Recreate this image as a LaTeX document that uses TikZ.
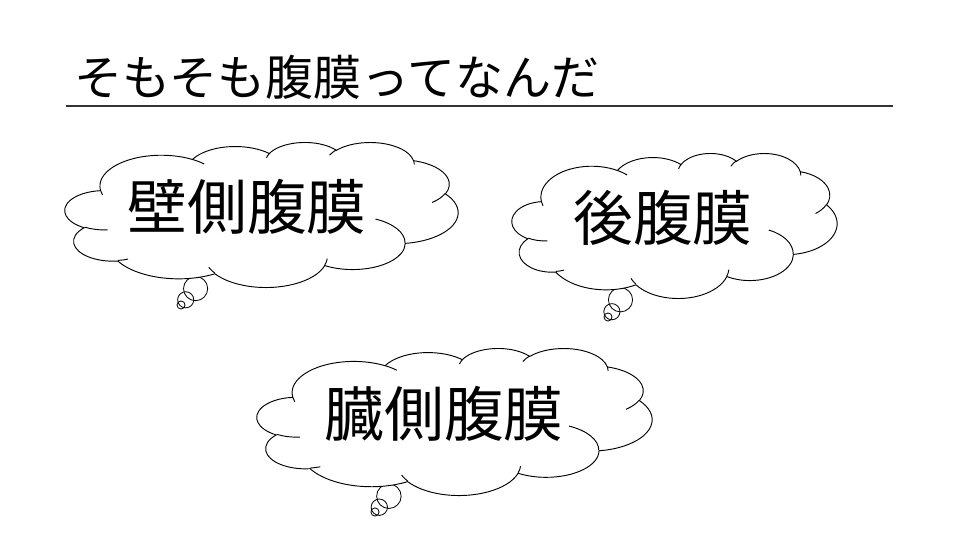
\documentclass[tikz,border=0pt]{standalone}
\usepackage{fontspec}
\setmainfont{Noto Sans CJK JP}
\usepackage{tikz}
\tikzstyle{cloudline} = [draw, black, line width=0.8pt]
\tikzstyle{puff} = [draw, black, line width=0.7pt]
\tikzstyle{rule} = [draw, black!80, line width=2.2pt]
\tikzstyle{headline} = [inner sep=0pt, font=\fontsize{41}{49}\selectfont]
\tikzstyle{cloudtext} = [inner sep=0pt, font=\fontsize{51}{60}\selectfont]

% turn a visual angle pair into start/end parameters of the ellipse
\newcommand\cloudang[4]{%
  \pgfmathsetmacro\cta{atan2(#1*sin(#3),#2*cos(#3))}%
  \pgfmathsetmacro\ctb{atan2(#1*sin(#3+#4),#2*cos(#3+#4))}%
  \pgfmathsetmacro\ctd{\ctb-\cta}%
  \pgfmathsetmacro\ctd{\ctd-360*round((\ctd-(#4))/360)}%
  \pgfmathsetmacro\ctb{\cta+\ctd}%
  \global\let\cta\cta \global\let\ctb\ctb}
\newcommand\carc[4]{\pgfextra{\cloudang{#1}{#2}{#3}{#4}} arc[x radius=#1, y radius=#2, start angle=\cta, end angle=\ctb]}

% cloud in a box: left, top, width, height
\newcommand\drawcloud[4]{%
  \begin{scope}[shift={(#1,#2)}, xscale=#3/43.2, yscale=#4/43.2]
    \draw [cloudline, fill=white] (3.9,14.37)
      \carc{6.753}{9.19}{-190.48748}{123.78053}
      \carc{5.333}{7.267}{-144.10238}{89.94523}
      \carc{4.365}{5.945}{-145.80792}{99.72302}
      \carc{4.857}{6.595}{-130.98607}{117.24173}
      \carc{5.333}{7.273}{-78.70888}{109.02692}
      \carc{6.775}{9.22}{-46.26725}{130.269}
      \carc{5.785}{7.867}{0.62502}{114.03333}
      \carc{6.752}{9.215}{22.4516}{115.17255}
      \carc{7.72}{10.543}{66.24263}{75.71102}
      \carc{4.36}{5.918}{-274.94208}{146.73557}
      \carc{4.345}{5.945}{-246.8285}{152.51885}
      -- cycle;
    \draw [cloudline] (4.693,26.177) \carc{4.345}{5.945}{86.742}{26.4295}
      (6.928,34.899) \carc{4.36}{5.918}{73.61047}{11.44747}
      (16.478,39.09) \carc{6.752}{9.215}{137.62415}{14.0811}
      (28.827,34.751) \carc{6.752}{9.215}{6.45327}{15.99835}
      (34.129,22.954) \carc{5.785}{7.867}{-70.29235}{70.91737}
      (41.798,15.354) \carc{5.333}{7.273}{30.31803}{27.7515}
      (38.324,5.426) \carc{4.857}{6.595}{-13.74433}{14.8589}
      (29.078,3.952) \carc{4.857}{6.595}{-149.18145}{18.19537}
      (22.141,4.72) \carc{4.365}{5.945}{-163.49427}{17.68635}
      (14,5.192) \carc{6.753}{9.19}{-66.70695}{12.31935}
      (4.127,15.789) \carc{6.753}{9.19}{157.65435}{11.85817};
  \end{scope}}

\begin{document}
\begin{tikzpicture}[x=0.03cm, y=-0.03cm]
  \useasboundingbox (0,0) rectangle (960,540);
  \draw [rule] (66,106) -- (893,106);
  \node [headline] (title) at (337,77) {そもそも腹膜ってなんだ};

  % thought puffs
  \draw [puff] (181,305) circle (4.03);
  \draw [puff] (185.7,299.8) circle (8.06);
  \draw [puff] (195.6,288.6) circle (12.08);
  \draw [puff] (608,317) circle (4.03);
  \draw [puff] (611.9,311.7) circle (8.06);
  \draw [puff] (620.5,299.8) circle (12.08);
  \draw [puff] (375,512) circle (4.08);
  \draw [puff] (379.3,507.2) circle (8.17);
  \draw [puff] (388.9,496.2) circle (12.25);

  % clouds
  \drawcloud{65}{142}{393}{145}
  \drawcloud{512}{153}{325}{145}
  \drawcloud{257}{348}{395}{147}

  \node [cloudtext] (parietal) at (247,207) {壁側腹膜};
  \node [cloudtext] (retro) at (663,218) {後腹膜};
  \node [cloudtext] (visceral) at (444,414) {臓側腹膜};
\end{tikzpicture}
\end{document}
